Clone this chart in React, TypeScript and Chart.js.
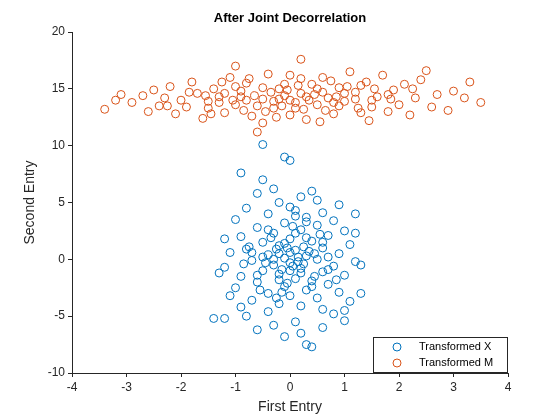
import { useEffect, useRef } from 'react';
import { Chart, registerables } from 'chart.js';

Chart.register(...registerables);

const titleText = 'After Joint Decorrelation';
const seriesNames = ['Transformed X', 'Transformed M'];
const xTicks = [-4, -3, -2, -1, 0, 1, 2, 3, 4];
const yTicks = [-10, -5, 0, 5, 10, 15, 20];

const pointsX: [number, number][] = [
  [-0.5, 10.1], [-0.1, 9.0], [0.0, 8.7], [-0.9, 7.6], [-0.5, 7.0], [1.2, 4.0], [-0.3, 6.2], [0.4, 6.0],
  [-0.6, 5.8], [0.2, 5.5], [0.5, 5.2], [-0.2, 5.0], [0.9, 4.8], [-0.8, 4.5], [0.1, 4.3], [0.6, 4.1],
  [-0.4, 4.0], [0.3, 3.7], [-1.0, 3.5], [0.8, 3.4], [-0.1, 3.2], [0.5, 3.0], [-0.6, 2.8], [0.2, 2.6],
  [1.0, 2.5], [-0.3, 2.3], [0.7, 2.1], [-0.9, 2.0], [0.0, 1.8], [0.4, 1.6], [-0.5, 1.5], [1.1, 1.3],
  [-0.2, 1.2], [0.6, 1.0], [-0.8, 0.9], [0.1, 0.8], [-1.1, 0.6], [0.9, 0.5], [-0.4, 0.4], [0.3, 0.3],
  [-0.1, 0.1], [0.5, 0.0], [-0.7, -0.1], [1.2, -0.2], [0.0, -0.3], [-0.3, -0.5], [0.8, -0.6], [-1.2, -0.7],
  [0.2, -0.8], [-0.5, -1.0], [0.6, -1.1], [-0.2, -1.3], [1.0, -1.4], [-0.9, -1.5], [0.1, -1.7], [0.4, -1.9],
  [-0.6, -2.0], [0.7, -2.2], [-0.1, -2.4], [-1.0, -2.5], [0.3, -2.7], [0.9, -2.9], [-0.4, -3.0], [0.0, -3.2],
  [0.5, -3.4], [-0.7, -3.6], [1.1, -3.7], [-0.2, -3.9], [0.2, -4.1], [-0.9, -4.2], [0.6, -4.4], [-0.4, -4.6],
  [0.8, -4.8], [-1.4, -5.2], [-1.2, -5.2], [-0.8, -5.0], [0.3, -7.5], [0.4, -7.7], [-0.1, -6.8], [0.1, -5.5],
  [-0.3, -5.8], [0.6, -6.0], [1.0, -5.4], [-0.6, -6.2], [0.2, -6.5], [1.3, -3.0], [1.3, -0.5], [-1.3, -1.2],
  [-1.2, 1.8], [1.2, 2.3], [-1.1, -3.2], [1.0, -4.5], [-0.2, 0.5], [0.15, -0.2], [-0.35, 1.9], [0.45, -1.5],
  [0.05, 2.9], [-0.15, -0.9], [0.25, 1.1], [-0.45, -0.3], [0.35, 0.7], [-0.05, -2.1], [0.7, 0.2], [-0.75, 1.1],
  [0.55, 2.2], [-0.55, -2.7], [0.1, 3.8], [-0.25, -3.4], [0.85, -1.8], [-0.85, -0.4],
  [0.0, 0.6], [0.05, -0.6], [-0.1, 1.4], [0.2, -1.2], [-0.3, 0.0], [0.3, 1.9], [-0.2, -1.8], [0.1, 2.3],
  [-0.4, 2.6], [0.4, -2.4], [0.0, -1.0], [0.15, 0.2], [-0.05, 1.0], [0.25, -0.4], [-0.25, 0.9], [0.6, 1.5],
  [-0.6, -1.4], [0.3, 3.3], [-0.15, -2.9], [0.45, 0.5], [-0.5, 0.2], [0.7, -0.9], [-0.7, 0.6], [0.0, 4.6],
];

const pointsM: [number, number][] = [
  [-3.4, 13.2], [-3.2, 14.0], [-3.1, 14.5], [-2.9, 13.8], [-2.7, 14.4], [-2.6, 13.0], [-2.5, 14.9], [-2.4, 13.5],
  [-2.3, 14.2], [-2.2, 15.2], [-2.1, 12.8], [-2.0, 14.0], [-1.9, 13.4], [-1.8, 15.6], [-1.7, 14.6], [-1.6, 12.4],
  [-1.5, 13.9], [-1.4, 15.0], [-1.3, 14.3], [-1.2, 12.9], [-1.1, 16.0], [-1.0, 17.0], [-1.0, 13.6], [-0.9, 14.8],
  [-0.8, 15.5], [-0.7, 12.6], [-0.6, 11.2], [-0.5, 12.0], [-0.5, 14.1], [-0.4, 16.3], [-0.3, 13.3], [-0.2, 15.0],
  [-0.1, 14.4], [0.0, 12.7], [0.0, 16.2], [0.1, 13.8], [0.2, 17.6], [0.2, 14.6], [0.3, 12.3], [0.4, 15.4],
  [0.5, 13.6], [0.6, 16.0], [0.7, 14.2], [0.8, 12.8], [0.9, 15.1], [1.0, 13.9], [1.1, 16.5], [1.2, 14.7],
  [1.3, 12.9], [1.4, 15.6], [1.5, 13.4], [1.6, 14.3], [1.7, 16.2], [1.8, 13.0], [1.9, 14.9], [2.0, 13.6],
  [2.1, 15.4], [2.2, 12.7], [2.3, 14.2], [2.4, 15.8], [2.5, 16.6], [2.6, 13.4], [2.7, 14.5], [2.9, 13.1],
  [3.0, 14.8], [3.3, 15.6], [3.5, 13.8], [3.2, 14.2], [-0.45, 13.0], [0.35, 14.0], [-0.15, 13.5], [0.15, 15.3],
  [-0.65, 14.4], [0.65, 13.1], [-1.25, 15.6], [1.25, 13.3], [-0.85, 13.1], [0.85, 14.3], [-1.55, 14.4], [1.55, 15.0],
  [-0.05, 14.9], [0.45, 14.5], [-0.35, 14.7], [0.25, 13.2], [1.05, 15.2], [-1.05, 14.0], [1.85, 14.1], [-1.85, 14.7],
  [2.25, 15.0], [-2.25, 13.5], [0.75, 15.7], [-0.75, 15.9], [0.55, 12.1], [-0.25, 12.5], [1.45, 12.2], [-1.45, 12.8],
  [0.0, 14.0], [0.3, 14.3], [-0.3, 13.9], [0.6, 14.7], [-0.6, 13.5], [0.9, 13.5], [-0.9, 14.3], [1.2, 14.1],
  [-1.2, 14.6], [0.1, 13.3], [-0.1, 15.4], [0.5, 15.0], [-0.5, 15.1], [1.0, 14.6], [-1.0, 15.2], [1.5, 14.0],
  [-1.5, 13.3], [0.2, 15.9], [-0.2, 14.1], [0.8, 13.8], [-0.8, 14.0], [1.3, 15.3], [-1.3, 13.8], [1.8, 14.5],
];

const colors = ['#0072BD', '#D95319'];
const font = 'Arial, "Liberation Sans", sans-serif';

const overlay = {
  id: 'overlay',
  afterDraw(chart: Chart) {
    const { ctx, chartArea } = chart;
    ctx.save();
    ctx.fillStyle = '#000';
    ctx.font = `bold 13px ${font}`;
    ctx.textAlign = 'center';
    ctx.textBaseline = 'middle';
    ctx.fillText(titleText, (chartArea.left + chartArea.right) / 2, 18);
    // legend box
    const w = 135, h = 36;
    const x0 = chartArea.right - w, y0 = chartArea.bottom - h;
    ctx.fillStyle = '#fff';
    ctx.fillRect(x0, y0, w, h);
    ctx.strokeStyle = '#262626';
    ctx.lineWidth = 1;
    ctx.strokeRect(x0 + 0.5, y0 + 0.5, w - 1, h - 1);
    ctx.font = `11px ${font}`;
    ctx.textAlign = 'left';
    seriesNames.forEach((name, i) => {
      const cy = y0 + 10 + i * 16;
      ctx.beginPath();
      ctx.arc(x0 + 24, cy, 4, 0, Math.PI * 2);
      ctx.strokeStyle = colors[i];
      ctx.stroke();
      ctx.fillStyle = '#000';
      ctx.fillText(name, x0 + 46, cy);
    });
    ctx.restore();
  },
};

export default function App() {
  const canvasRef = useRef<HTMLCanvasElement>(null);

  useEffect(() => {
    if (!canvasRef.current) return;
    const axisCommon = {
      border: { display: true, color: '#262626' },
      grid: { display: true, drawOnChartArea: false, tickLength: 4, color: '#262626' },
      ticks: { color: '#262626', font: { family: font, size: 12 }, autoSkip: false },
      title: { display: true, color: '#262626', font: { family: font, size: 14 } },
    };
    const chart = new Chart(canvasRef.current, {
      type: 'scatter',
      data: {
        datasets: [pointsX, pointsM].map((pts, i) => ({
          label: seriesNames[i],
          data: pts.map(([x, y]) => ({ x, y })),
          borderColor: colors[i],
          backgroundColor: 'rgba(0,0,0,0)',
          borderWidth: 1,
          pointRadius: 4,
        })),
      },
      options: {
        animation: false,
        responsive: false,
        layout: { padding: { top: 32, right: 52, left: 22, bottom: 0 } },
        plugins: { legend: { display: false }, title: { display: false }, tooltip: { enabled: false } },
        scales: {
          x: {
            ...axisCommon,
            type: 'linear',
            min: -4,
            max: 4,
            afterBuildTicks: (s: any) => { s.ticks = xTicks.map((v) => ({ value: v })); },
            afterFit: (s: any) => { s.height = 47; },
            title: { ...axisCommon.title, text: 'First Entry', padding: { top: 2 } },
          },
          y: {
            ...axisCommon,
            type: 'linear',
            min: -10,
            max: 20,
            afterBuildTicks: (s: any) => { s.ticks = yTicks.map((v) => ({ value: v })); },
            afterFit: (s: any) => { s.width = 50; },
            title: { ...axisCommon.title, text: 'Second Entry', padding: 0 },
          },
        },
      } as any,
      plugins: [overlay],
    });
    return () => chart.destroy();
  }, []);

  return (
    <div style={{ position: 'fixed', left: 0, top: 0, width: 560, height: 420, background: '#fff' }}>
      <canvas ref={canvasRef} width={560} height={420} style={{ width: 560, height: 420 }} />
    </div>
  );
}
